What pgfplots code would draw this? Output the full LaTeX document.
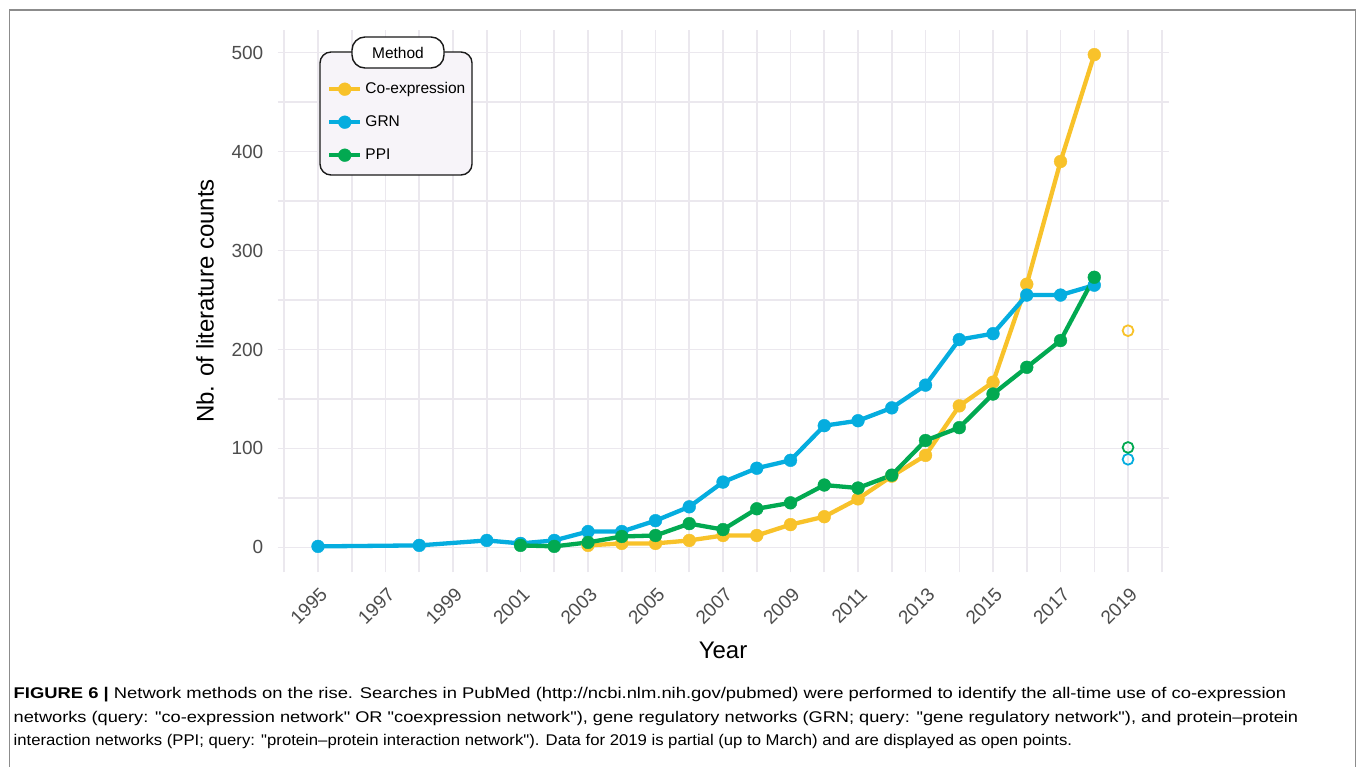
\documentclass[border=0pt]{standalone}
\usepackage{fontspec}
\setmainfont{Liberation Sans}
\newfontfamily\capfont{Liberation Sans}[Ligatures=TeXOff]
\usepackage{graphicx}
\usepackage{pgfplots}
\usepackage{pgfplotstable}
\pgfplotsset{compat=1.18}
\definecolor{coexp}{HTML}{F8C22A}
\definecolor{grn}{HTML}{05ADDF}
\definecolor{ppi}{HTML}{02A951}
\definecolor{gridc}{HTML}{EBE8EE}
\definecolor{legbg}{HTML}{F7F4F9}
\definecolor{tickc}{HTML}{4D4D4D}
\definecolor{framec}{HTML}{8C8C8C}

\pgfplotstableread{
year val
2003 2
2004 4
2005 4
2006 7
2007 12
2008 12
2009 23
2010 31
2011 49
2012 72
2013 93
2014 143
2015 167
2016 266
2017 390
2018 498
}\coexptab

\pgfplotstableread{
year val
1995 1
1998 2
2000 7
2001 4
2002 7
2003 16
2004 16
2005 27
2006 41
2007 66
2008 80
2009 88
2010 123
2011 128
2012 141
2013 164
2014 210
2015 216
2016 255
2017 255
2018 265
}\grntab

\pgfplotstableread{
year val
2001 2
2002 1
2003 5
2004 11
2005 12
2006 24
2007 18
2008 39
2009 45
2010 63
2011 60
2012 73
2013 108
2014 121
2015 155
2016 182
2017 209
2018 273
}\ppitab

\pgfplotsset{
  serline/.style={line width=4.3pt, no marks, line join=round},
  sermark/.style={only marks, mark=*, mark size=6.4pt, mark options={line width=0.4pt, solid}},
  serleg/.style={line width=4.3pt, mark=*, mark size=6.4pt, mark options={line width=0.4pt, solid}},
  openmark/.style={only marks, mark=o, mark size=5.4pt, mark options={line width=1.8pt}},
}

\begin{document}
\begin{tikzpicture}[x=1pt,y=1pt]
\useasboundingbox (0,0) rectangle (1357,-766);
\fill[white] (0,0) rectangle (1357,-766);
\draw[framec, line width=1.5pt] (9.5,-10) rectangle (1355.3,-820);

\begin{axis}[
  at={(277.5pt,-572pt)}, anchor=south west,
  scale only axis, width=891pt, height=542pt,
  xmin=1993.8, xmax=2020.2, ymin=-24.9, ymax=522.9,
  clip=false,
  xtick={1995,1997,...,2019}, minor xtick={1994,1996,...,2020},
  ytick={0,100,...,500}, minor ytick={50,150,...,450},
  grid=both,
  major grid style={gridc, line width=1.6pt},
  minor grid style={gridc, line width=1.6pt},
  axis line style={draw=none},
  major tick length=0pt, minor tick length=0pt, tick style={draw=none},
  /pgf/number format/assume math mode=true,
  /pgf/number format/1000 sep={},
  ticklabel style={font=\fontsize{19}{22}\selectfont, text=tickc},
  yticklabel style={anchor=east, inner sep=0pt, xshift=-14pt},
  xticklabel style={xshift=1pt, yshift=-14pt, rotate=45, anchor=north east, inner sep=0pt},
  xlabel={Year}, ylabel={Nb. of literature counts},
  label style={font=\fontsize{24}{28}\selectfont},
  xlabel style={at={(axis description cs:0.5,-0.1439)}, anchor=center},
  ylabel style={at={(axis description cs:-0.0814,0.5)}, anchor=center},
  legend cell align=left,
  legend image code/.code={\draw[mark repeat=2,mark phase=2] plot coordinates {(0pt,0pt) (15.5pt,0pt) (31pt,0pt)};},
  legend style={at={(axis description cs:0.0555,0.9041)}, anchor=north west,
    draw=none, fill=none, inner sep=0pt, row sep=19pt, column sep=3pt,
    font=\fontsize{15.5}{18}\selectfont,
    nodes={inner sep=0pt, text height=11pt, text depth=3pt}},
]
\addlegendimage{serleg, color=coexp}
\addlegendentry{Co-expression}
\addlegendimage{serleg, color=grn}
\addlegendentry{GRN}
\addlegendimage{serleg, color=ppi}
\addlegendentry{PPI}

\addplot[serline, color=coexp, forget plot] table[x=year,y=val] {\coexptab};
\addplot[serline, color=grn, forget plot] table[x=year,y=val] {\grntab};
\addplot[serline, color=ppi, forget plot] table[x=year,y=val] {\ppitab};
\addplot[sermark, color=coexp, forget plot] table[x=year,y=val] {\coexptab};
\addplot[sermark, color=grn, forget plot] table[x=year,y=val] {\grntab};
\addplot[sermark, color=ppi, forget plot] table[x=year,y=val] {\ppitab};
\addplot[openmark, color=coexp, forget plot] coordinates {(2019,219)};
\addplot[openmark, color=grn, forget plot] coordinates {(2019,89)};
\addplot[openmark, color=ppi, forget plot] coordinates {(2019,101)};

\draw[line width=1.4pt, draw=black!90, fill=legbg, rounded corners=11pt]
  (axis description cs:0.0477,0.9594) rectangle (axis description cs:0.2183,0.7325);
\end{axis}

\node[draw=black!90, line width=1.4pt, fill=white, rounded corners=13pt,
  minimum width=92pt, minimum height=31pt, inner sep=0pt,
  font=\fontsize{15.5}{18}\selectfont] at (398,-52.5) {Method};

\node[anchor=base west, inner sep=0pt, font=\capfont\fontsize{15.5}{18}\selectfont] at (13.5,-698.5)
  {\resizebox{1272.5pt}{\height}{\textbf{FIGURE 6 |} Network methods on the rise. Searches in PubMed (http://ncbi.nlm.nih.gov/pubmed) were performed to identify the all-time use of co-expression}};
\node[anchor=base west, inner sep=0pt, font=\capfont\fontsize{15.5}{18}\selectfont] at (13.5,-722)
  {\resizebox{1284.5pt}{\height}{networks (query: "co-expression network" OR "coexpression network"), gene regulatory networks (GRN; query: "gene regulatory network"), and protein–protein}};
\node[anchor=base west, inner sep=0pt, font=\capfont\fontsize{15.5}{18}\selectfont] at (13.5,-745.5)
  {\resizebox{1058.5pt}{\height}{interaction networks (PPI; query: "protein–protein interaction network"). Data for 2019 is partial (up to March) and are displayed as open points.}};
\end{tikzpicture}
\end{document}
